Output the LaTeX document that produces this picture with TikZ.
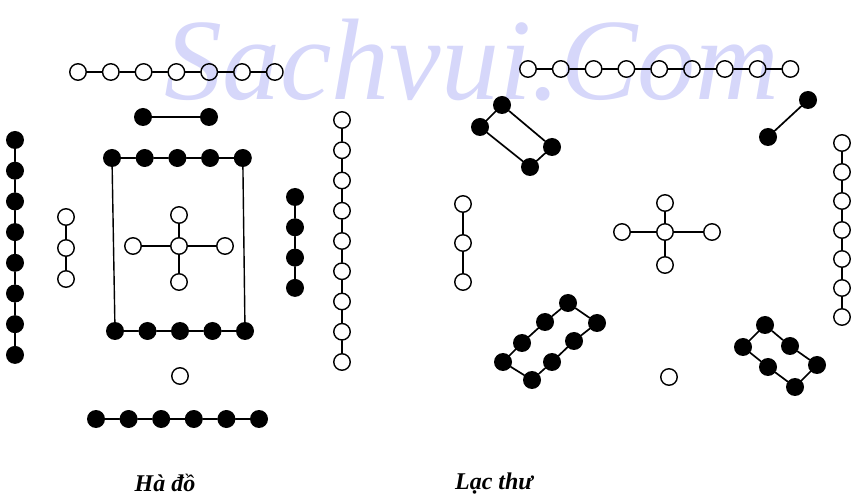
\documentclass[tikz,border=0pt]{standalone}
\usepackage{fontspec}
\setmainfont{Liberation Serif}
\definecolor{wmark}{RGB}{214,215,250}
\begin{document}
\begin{tikzpicture}[x=1pt,y=-1pt,line cap=round,line join=round,
  wnode/.style={circle,draw,line width=1.4pt,inner sep=0pt,minimum size=16.5pt},
  bnode/.style={circle,fill,inner sep=0pt,minimum size=18pt},
  link/.style={line width=1.7pt},
  title/.style={font=\fontsize{24}{24}\selectfont\bfseries\itshape,anchor=base}]
\useasboundingbox (0,0) rectangle (854,502);
% watermark
\node[text=wmark,font=\fontsize{116}{116}\selectfont\itshape,anchor=base] (wm) at (472,100) {Sachvui.Com};

% ---- Ha do ----
\foreach \i in {0,...,6}
\node[wnode] (ht\i) at (78+32.8*\i,72) {};
\foreach \i [remember=\i as \last (initially 0)] in {1,...,6}
\draw[link] (ht\last) -- (ht\i);
\node[bnode] (hp1) at (143,117) {};
\node[bnode] (hp2) at (209,117) {};
\draw[link] (hp1) -- (hp2);
% left columns
\foreach \i in {0,...,7}
\node[bnode] (hl\i) at (15,140+30.7*\i) {};
\foreach \i [remember=\i as \last (initially 0)] in {1,...,7}
\draw[link] (hl\last) -- (hl\i);
\foreach \i in {0,...,2}
\node[wnode] (hw\i) at (66,217+31*\i) {};
\foreach \i [remember=\i as \last (initially 0)] in {1,...,2}
\draw[link] (hw\last) -- (hw\i);
% frame
\foreach \i in {0,...,4}{
\node[bnode] (hf\i) at (112+32.7*\i,158) {};
\node[bnode] (hg\i) at (115+32.5*\i,331) {};
}
\foreach \i [remember=\i as \last (initially 0)] in {1,...,4}{
\draw[link] (hf\last) -- (hf\i);
\draw[link] (hg\last) -- (hg\i);
}
\draw[line width=1.4pt] (hf0) -- (hg0);
\draw[line width=1.4pt] (hf4) -- (hg4);
% centre cross
\node[wnode] (hc) at (179,246) {};
\node[wnode] (hcl) at (133,246) {};
\node[wnode] (hcr) at (225,246) {};
\node[wnode] (hcu) at (179,215) {};
\node[wnode] (hcd) at (179,282) {};
\foreach \n in {hcl,hcr,hcu,hcd}
\draw[link] (hc) -- (\n);
\node[wnode] (hs) at (180,376) {};
% bottom row
\foreach \i in {0,...,5}
\node[bnode] (hb\i) at (96+32.6*\i,419) {};
\foreach \i [remember=\i as \last (initially 0)] in {1,...,5}
\draw[link] (hb\last) -- (hb\i);
% right columns
\foreach \i in {0,...,3}
\node[bnode] (hr\i) at (295,197+30.3*\i) {};
\foreach \i [remember=\i as \last (initially 0)] in {1,...,3}
\draw[link] (hr\last) -- (hr\i);
\foreach \i in {0,...,8}
\node[wnode] (hv\i) at (342,120+30.25*\i) {};
\foreach \i [remember=\i as \last (initially 0)] in {1,...,8}
\draw[link] (hv\last) -- (hv\i);
\node[title] (hname) at (165,491) {Hà đồ};

% ---- Lac thu ----
\foreach \i in {0,...,8}
\node[wnode] (lt\i) at (528+32.8*\i,69) {};
\foreach \i [remember=\i as \last (initially 0)] in {1,...,8}
\draw[link] (lt\last) -- (lt\i);
% upper left box
\node[bnode] (la1) at (502,105) {};
\node[bnode] (la2) at (480,127) {};
\node[bnode] (la3) at (530,167) {};
\node[bnode] (la4) at (552,147) {};
\draw[link] (la1) -- (la2) -- (la3) -- (la4) -- (la1);
% upper right pair
\node[bnode] (lp1) at (808,100) {};
\node[bnode] (lp2) at (768,137) {};
\draw[link] (lp1) -- (lp2);
% left column
\foreach \i in {0,...,2}
\node[wnode] (lw\i) at (463,204+39*\i) {};
\foreach \i [remember=\i as \last (initially 0)] in {1,...,2}
\draw[link] (lw\last) -- (lw\i);
% centre cross
\node[wnode] (lc) at (665,232) {};
\node[wnode] (lcl) at (622,232) {};
\node[wnode] (lcr) at (712,232) {};
\node[wnode] (lcu) at (665,203) {};
\node[wnode] (lcd) at (665,265) {};
\foreach \n in {lcl,lcr,lcu,lcd}
\draw[link] (lc) -- (\n);
\node[wnode] (ls) at (669,377) {};
% right column
\foreach \i in {0,...,6}
\node[wnode] (lv\i) at (842,143+29*\i) {};
\foreach \i [remember=\i as \last (initially 0)] in {1,...,6}
\draw[link] (lv\last) -- (lv\i);
% lower left box
\node[bnode] (lb1) at (503,362) {};
\node[bnode] (lb2) at (522,343) {};
\node[bnode] (lb3) at (545,322) {};
\node[bnode] (lb4) at (568,303) {};
\node[bnode] (lb5) at (597,323) {};
\node[bnode] (lb6) at (574,341) {};
\node[bnode] (lb7) at (552,362) {};
\node[bnode] (lb8) at (532,380) {};
\draw[link] (lb1) -- (lb2) -- (lb3) -- (lb4) -- (lb5) -- (lb6) -- (lb7) -- (lb8) -- (lb1);
% lower right box
\node[bnode] (lr1) at (765,325) {};
\node[bnode] (lr2) at (790,346) {};
\node[bnode] (lr3) at (817,365) {};
\node[bnode] (lr4) at (795,387) {};
\node[bnode] (lr5) at (768,367) {};
\node[bnode] (lr6) at (743,347) {};
\draw[link] (lr1) -- (lr2) -- (lr3) -- (lr4) -- (lr5) -- (lr6) -- (lr1);
\node[title] (lname) at (494,489) {Lạc thư};
\end{tikzpicture}
\end{document}
